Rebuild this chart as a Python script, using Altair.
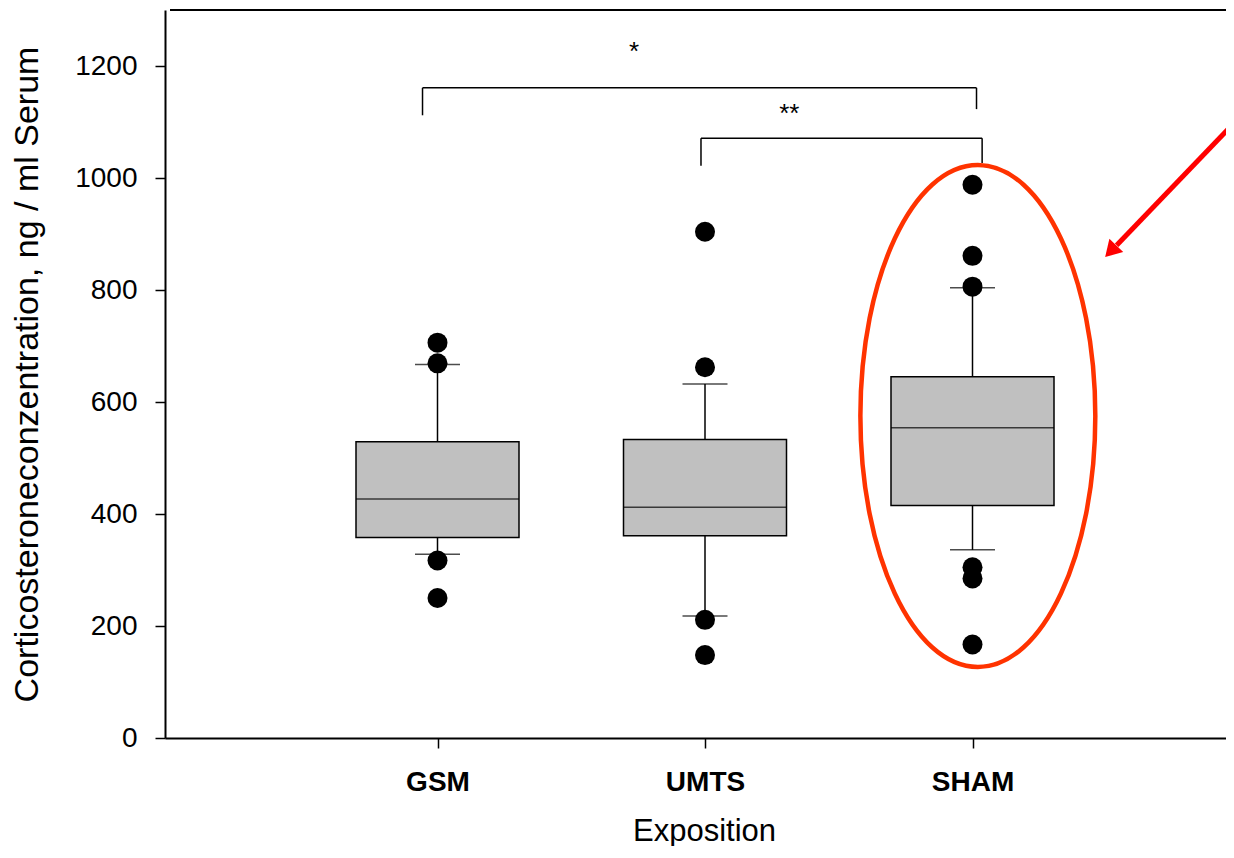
import altair as alt
import pandas as pd

# ---- data ----
categories = ["GSM", "UMTS", "SHAM"]
positions = [1, 2, 3]
q1 = [358, 361, 415]
median = [427, 412, 554]
q3 = [529, 533, 645]
whisker_low = [328, 218, 336]
whisker_high = [667, 632, 804]

outlier_group = ["GSM"] * 4 + ["UMTS"] * 4 + ["SHAM"] * 6
outlier_values = [706, 669, 317, 250, 904, 662, 211, 148, 988, 861, 806, 305, 285, 167]

# significance brackets (data units)
bracket_x1 = [0.944, 1.985]
bracket_x2 = [3.015, 3.036]
bracket_y = [1161, 1071]
bracket_left_end = [1112, 1022]
bracket_right_end = [1123, 1027]
sig_labels = ["*", "**"]
sig_x = [1.735, 2.315]
sig_y = [1211, 1100]

# highlight annotation (ellipse + arrow)
ellipse_x = [3.02]
ellipse_y = [575]
arrow_x1 = [3.959]
arrow_y1 = [1089]
arrow_x2 = [3.539]
arrow_y2 = [880]
arrow_tip_x = [3.496]
arrow_tip_y = [859]

PLOT_W = 1080          # plot runs past the page edge, as in the cropped reference
X_MAX = PLOT_W / 270
Y_MAX = 1300
FONT = "Liberation Sans"

pos_map = dict(zip(categories, positions))
boxes = pd.DataFrame({
    "cat": categories, "pos": positions, "q1": q1, "median": median,
    "q3": q3, "lo": whisker_low, "hi": whisker_high,
})
outliers = pd.DataFrame({
    "pos": [pos_map[g] for g in outlier_group], "value": outlier_values,
})
brackets = pd.DataFrame({
    "x1": bracket_x1, "x2": bracket_x2, "y": bracket_y,
    "yl": bracket_left_end, "yr": bracket_right_end,
})
sigs = pd.DataFrame({"label": sig_labels, "x": sig_x, "y": sig_y})
frame = pd.DataFrame({"x1": [0], "x2": [X_MAX], "y": [Y_MAX]})
ellipse = pd.DataFrame({"x": ellipse_x, "y": ellipse_y})
arrow = pd.DataFrame({"x1": arrow_x1, "y1": arrow_y1, "x2": arrow_x2, "y2": arrow_y2})
arrow_tip = pd.DataFrame({"x": arrow_tip_x, "y": arrow_tip_y})

label_expr = "[" + ",".join("'%s'" % c for c in categories) + "][datum.value - 1]"

xscale = alt.Scale(domain=[0, X_MAX], nice=False, zero=False)
yscale = alt.Scale(domain=[0, Y_MAX], nice=False)

x_axis = alt.Axis(
    values=positions, labelExpr=label_expr, title="Exposition",
    grid=False, tickSize=10, tickWidth=1.5, tickColor="black",
    domainColor="black", domainWidth=2,
    labelFont=FONT, labelFontSize=28, labelFontWeight="bold", labelColor="black",
    labelPadding=20, titleFont=FONT, titleFontSize=31, titleFontWeight="normal",
    titleColor="black", titlePadding=20, titleX=539,
)
y_axis = alt.Axis(
    values=[0, 200, 400, 600, 800, 1000, 1200], format="d",
    title="Corticosteroneconzentration, ng / ml Serum",
    grid=False, tickSize=10, tickWidth=1.5, tickColor="black",
    domainColor="black", domainWidth=2,
    labelFont=FONT, labelFontSize=28, labelColor="black", labelPadding=18,
    titleFont=FONT, titleFontSize=34, titleFontWeight="normal", titleColor="black",
    titlePadding=30,
)

base_x = alt.X("pos:Q", scale=xscale, axis=x_axis)

box = alt.Chart(boxes).mark_bar(
    size=163, fill="#c0c0c0", stroke="black", strokeWidth=1.5
).encode(
    x=base_x,
    y=alt.Y("q1:Q", scale=yscale, axis=y_axis),
    y2="q3:Q",
)
med = alt.Chart(boxes).mark_tick(
    orient="horizontal", size=163, thickness=1.5, color="black"
).encode(x="pos:Q", y="median:Q")
whisk_hi = alt.Chart(boxes).mark_rule(color="black", strokeWidth=1.5).encode(
    x="pos:Q", y="q3:Q", y2="hi:Q")
whisk_lo = alt.Chart(boxes).mark_rule(color="black", strokeWidth=1.5).encode(
    x="pos:Q", y="q1:Q", y2="lo:Q")
cap_hi = alt.Chart(boxes).mark_tick(
    orient="horizontal", size=45, thickness=1.5, color="black"
).encode(x="pos:Q", y="hi:Q")
cap_lo = alt.Chart(boxes).mark_tick(
    orient="horizontal", size=45, thickness=1.5, color="black"
).encode(x="pos:Q", y="lo:Q")
dots = alt.Chart(outliers).mark_circle(size=400, color="black", opacity=1).encode(
    x="pos:Q", y="value:Q")

br_h = alt.Chart(brackets).mark_rule(color="black", strokeWidth=1.5).encode(
    x="x1:Q", x2="x2:Q", y="y:Q")
br_l = alt.Chart(brackets).mark_rule(color="black", strokeWidth=1.5).encode(
    x="x1:Q", y="y:Q", y2="yl:Q")
br_r = alt.Chart(brackets).mark_rule(color="black", strokeWidth=1.5).encode(
    x="x2:Q", y="y:Q", y2="yr:Q")
sig_text = alt.Chart(sigs).mark_text(
    font=FONT, fontSize=26, color="black", baseline="alphabetic", align="center"
).encode(x="x:Q", y="y:Q", text="label:N")

top_border = alt.Chart(frame).mark_rule(color="black", strokeWidth=2).encode(
    x="x1:Q", x2="x2:Q", y="y:Q")

k = 0.5523
rx = 0.468
ell_path = (
    f"M {rx} 0 C {rx} {k} {rx*k:.4f} 1 0 1 "
    f"C {-rx*k:.4f} 1 {-rx} {k} {-rx} 0 "
    f"C {-rx} {-k} {-rx*k:.4f} -1 0 -1 "
    f"C {rx*k:.4f} -1 {rx} {-k} {rx} 0 Z"
)
ell = alt.Chart(ellipse).mark_point(
    shape=ell_path, size=502 * 502, filled=False, stroke="#ff3300",
    strokeWidth=4.5, opacity=1,
).encode(x="x:Q", y="y:Q")

shaft = alt.Chart(arrow).mark_rule(color="#ff0000", strokeWidth=5).encode(
    x="x1:Q", y="y1:Q", x2="x2:Q", y2="y2:Q")
head = alt.Chart(arrow_tip).mark_point(
    shape="M 0 0 L -0.6 1 L 0.6 1 Z", size=32 * 32, filled=True,
    color="#ff0000", opacity=1, angle=224,
).encode(x="x:Q", y="y:Q")

chart = alt.layer(
    box, whisk_hi, whisk_lo, cap_hi, cap_lo, med, dots,
    br_h, br_l, br_r, sig_text, top_border, ell, shaft, head,
).properties(
    width=PLOT_W, height=728,
    padding={"left": 157, "top": 2, "right": -19, "bottom": 108},
    autosize=alt.AutoSizeParams(type="none"),
    background="white",
).configure_view(strokeWidth=0)

chart.save("out.html", embed_options={"renderer": "svg", "actions": False})
